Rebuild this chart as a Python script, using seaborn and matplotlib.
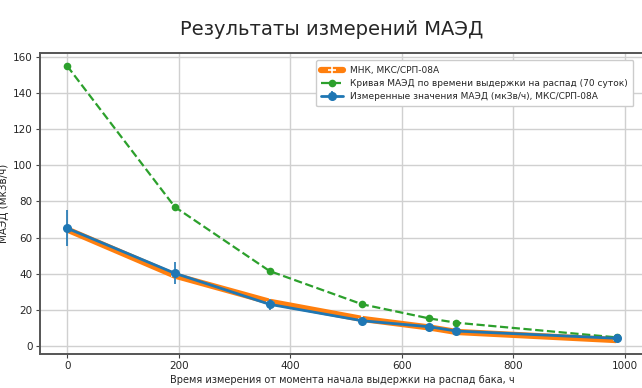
import numpy as np
import pandas as pd
import matplotlib
matplotlib.use('Agg')
import matplotlib.pyplot as plt
import seaborn as sns

# Время от начала выдержки, ч
t_hours = [0, 193, 363, 529, 649, 698, 985]
# Измеренные значения МАЭД, мкЗв/ч
maed_meas = [65.2, 40.3, 23.1, 14.0, 10.7, 8.3, 4.3]
maed_err = [10.0, 6.2, 3.1, 1.5, 1.2, 1.0, 0.8]
# МНК
maed_mnk = [64.5, 39.0, 24.5, 15.0, 10.3, 7.8, 3.3]
# Кривая МАЭД по времени выдержки (70 суток)
maed_curve = [155.0, 77.0, 41.5, 23.1, 15.3, 12.9, 4.8]

sns.set_style('whitegrid')
plt.rcParams['font.family'] = ['DejaVu Sans']

fig = plt.figure(figsize=(6.42, 3.88), dpi=100)
ax = fig.add_axes([0.062, 0.0876, 0.941, 0.776])

df = pd.DataFrame({'t': t_hours, 'mnk': maed_mnk, 'curve': maed_curve,
                   'meas': maed_meas, 'err': maed_err})

sns.lineplot(data=df, x='t', y='mnk', ax=ax, color='#ff7f0e', linewidth=4.5,
             marker='+', markersize=6, markeredgewidth=1.2,
             label='МНК, МКС/СРП-08А')
sns.lineplot(data=df, x='t', y='curve', ax=ax, color='#2ca02c', linewidth=1.6,
             linestyle='--', marker='o', markersize=5.5, markeredgewidth=0,
             label='Кривая МАЭД по времени выдержки на распад (70 суток)')
ax.errorbar(df['t'], df['meas'], yerr=df['err'], color='#1f77b4', linewidth=2.0,
            marker='o', markersize=5.5, elinewidth=1.2,
            label='Измеренные значения МАЭД (мкЗв/ч), МКС/СРП-08А')

ax.set_xlim(-49, 1034)
ax.set_ylim(-4.4, 162.2)
ax.set_xticks([0, 200, 400, 600, 800, 1000])
ax.set_yticks(range(0, 161, 20))
ax.tick_params(axis='both', labelsize=7.5, length=3, width=0.8, color='#444444',
               bottom=True, left=True, pad=2)
ax.grid(True, color='#d0d0d0', linewidth=1.0)
for s in ax.spines.values():
    s.set_color('#555555')
    s.set_linewidth(1.4)

ax.set_xlabel('Время измерения от момента начала выдержки на распад бака, ч',
              fontsize=7, labelpad=3)
ax.set_ylabel('МАЭД (мкЗв/ч)', fontsize=7.5, labelpad=3)

leg = ax.legend(loc='upper right', fontsize=6.5, frameon=True, framealpha=1,
                borderpad=0.6, handlelength=2.4, labelspacing=0.45,
                bbox_to_anchor=(0.99, 0.99))
leg.get_frame().set_edgecolor('#cccccc')

fig.text(0.516, 0.925, 'Результаты измерений МАЭД', fontsize=14,
         ha='center', va='center')

fig.savefig('out.png', dpi=100)
